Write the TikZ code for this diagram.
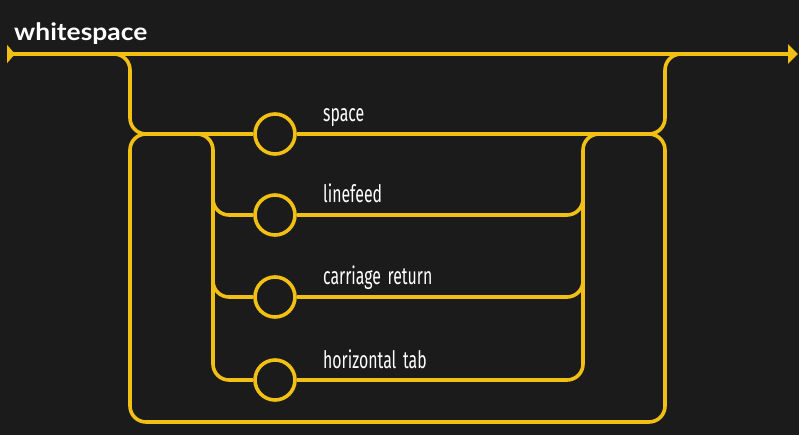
\documentclass[tikz,border=0pt]{standalone}
\usepackage{fontspec}
\usetikzlibrary{arrows.meta}
\setmainfont{PT Sans}
\newfontfamily\railfont[FakeStretch=0.66,WordSpace=1.6]{Fira Sans}
\newfontfamily\titlefont[FakeStretch=1.1]{Lato}
\definecolor{rail}{HTML}{F2BF14}
\definecolor{ground}{HTML}{1B1B1B}
\tikzset{
  track/.style={draw=rail, line width=3.6pt, rounded corners=16pt},
  term/.style={draw=rail, line width=3.6pt, circle, minimum size=40pt, inner sep=0pt, fill=ground},
  lbl/.style={text=white, font=\railfont\fontsize{24}{24}\selectfont, anchor=base west, inner sep=0pt},
}

\begin{document}
\begin{tikzpicture}[x=1pt,y=-1pt]
\fill[ground] (0,0) rectangle (799,435);
\useasboundingbox (0,0) rectangle (799,435);
\node[text=white, font=\titlefont\bfseries\fontsize{24}{24}\selectfont, anchor=base west, inner sep=0pt] (title) at (14,41) {whitespace};
% main line
\coordinate (in) at (7,54);
\coordinate (out) at (798,54);
\draw[track, {Triangle[reversed,length=8pt,width=18pt]}-{Triangle[length=10pt,width=19pt]}] (in) -- (out);
% terminals
\node[term] (sp) at (275,134) {};
\node[term] (lf) at (275,215) {};
\node[term] (cr) at (275,297) {};
\node[term] (ht) at (275,380) {};
\node[lbl] (splbl) at (323,122) {space};
\node[lbl] (lflbl) at (323,203) {linefeed};
\node[lbl] (crlbl) at (323,284) {carriage return};
\node[lbl] (htlbl) at (323,368) {horizontal tab};
% junctions
\coordinate (split) at (114,54);
\coordinate (join) at (681,54);
\coordinate (loopl) at (146,134);
\coordinate (loopr) at (649,134);
\coordinate (forkl) at (197,134);
\coordinate (forkr) at (599,134);
% optional branch and loop
\draw[track] (split) -- (130,54) -- (130,134) -- (loopl);
\draw[track] (loopr) -- (665,134) -- (665,54) -- (join);
\draw[track] (loopr) -- (665,134) -- (665,422) -- (130,422) -- (130,134) -- (loopl);
\draw[track] (loopl) -- (sp);
\draw[track] (sp) -- (loopr);
% choice
\draw[track] (forkl) -- (213,134) -- (213,380) -- (ht);
\draw[track] (213,190) -- (213,215) -- (lf);
\draw[track] (213,270) -- (213,297) -- (cr);
\draw[track] (ht) -- (583,380) -- (583,134) -- (forkr);
\draw[track] (lf) -- (583,215) -- (583,190);
\draw[track] (cr) -- (583,297) -- (583,270);
\end{tikzpicture}
\end{document}
